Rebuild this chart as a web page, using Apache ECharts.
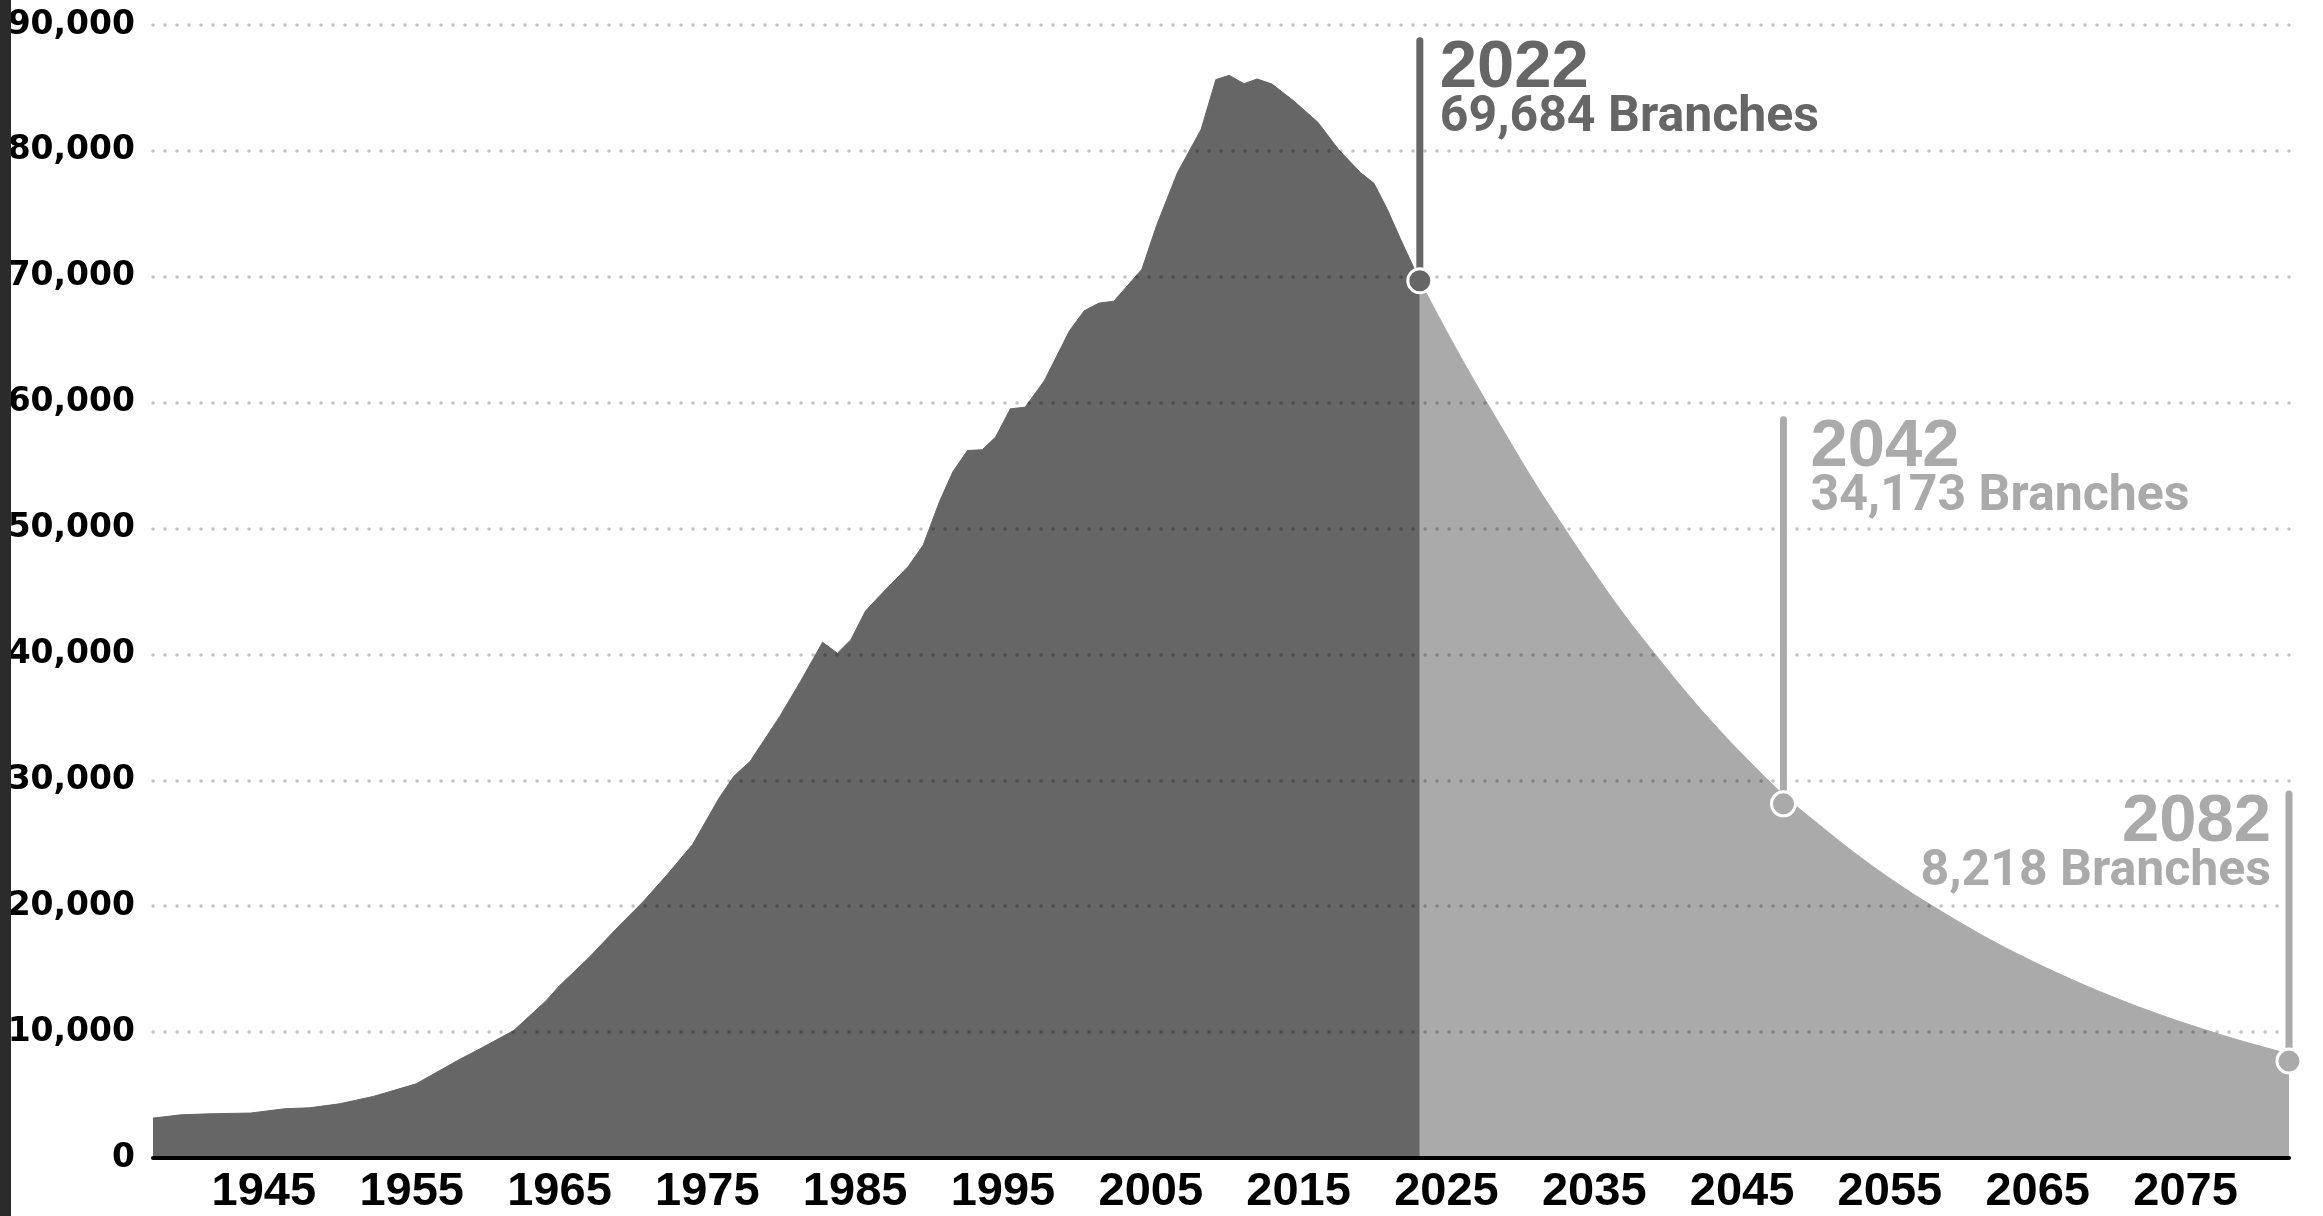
<!DOCTYPE html>
<html><head><meta charset="utf-8">
<script src="https://cdn.jsdelivr.net/npm/echarts@6/dist/echarts.min.js"></script>
<style>html,body{margin:0;padding:0;background:#fff}#c{width:2323px;height:1216px}</style>
</head><body><div id="c"></div>
<script>
// Historical branch counts (dark area)
const histYears = [1937.5,1939.4,1941.3,1944.1,1946.4,1948.1,1950.1,1952.4,1955.3,1958.3,1959.6,1961.9,1964.1,1965.0,1967.0,1968.7,1970.7,1972.3,1974.0,1975.8,1976.8,1977.9,1979.9,1981.3,1982.8,1983.8,1984.7,1985.7,1986.7,1988.6,1989.6,1990.7,1991.6,1992.6,1993.6,1994.5,1995.5,1996.5,1997.8,1999.5,2000.5,2001.5,2002.5,2004.4,2005.4,2006.8,2008.4,2009.4,2010.3,2011.3,2012.2,2013.2,2014.7,2016.3,2017.7,2019.2,2020.1,2021.0,2021.9,2023.2];
const histValues = [3170,3430,3510,3570,3910,3990,4300,4890,5890,7870,8660,10120,12500,13690,15930,18040,20420,22530,24900,28600,30330,31510,35080,37850,40970,40100,41150,43450,44710,47000,48680,52120,54490,56200,56260,57270,59510,59640,61750,65710,67300,67910,68060,70600,74100,78260,81700,85660,86000,85340,85710,85310,83940,82280,80110,78260,77420,75360,72980,69684];
// Projected branch counts (light area)
const projYears = [2023.2,2025,2027,2029,2031,2033,2035,2037,2039,2041,2043,2045,2047.8,2050,2053,2056,2058,2061,2064,2067,2070,2073,2076,2079,2082];
const projValues = [69684,65700,61500,57500,53600,50000,46500,43200,40200,37300,34600,32100,28850,26680,23900,21420,19940,17860,16000,14340,12840,11500,10310,9230,8270];
// Axis tick labels
const xTickYears = [1945,1955,1965,1975,1985,1995,2005,2015,2025,2035,2045,2055,2065,2075];
// Annotated points
const markerYears = [2023.2, 2047.8, 2082];
const markerValues = [69684, 28130, 7700];
const markerTitles = ['2022', '2042', '2082'];
const markerTexts = ['69,684 Branches', '34,173 Branches', '8,218 Branches'];

const DARK = '#666666', LIGHT = '#aaaaaa';
const markerStyle = [
  {color: DARK, stem: 240, dx: 20, align: 'left'},
  {color: LIGHT, stem: 384, dx: 27, align: 'left'},
  {color: LIGHT, stem: 267, dx: -18, align: 'right'}
];

const zip = (a, b) => a.map((x, i) => [x, b[i]]);

const chart = echarts.init(document.getElementById('c'), null, {renderer: 'canvas'});
chart.setOption({
  animation: false,
  backgroundColor: '#ffffff',
  graphic: [{type: 'rect', left: 0, top: 0, z: 100, shape: {width: 11, height: 1216}, style: {fill: '#2b2b2b'}}],
  grid: {left: 153, right: 34, top: 25, bottom: 55, containLabel: false},
  xAxis: {
    type: 'value', min: 1937.5, max: 2082, z: 5,
    splitLine: {show: false},
    axisTick: {show: false},
    axisLine: {show: true, onZero: true, lineStyle: {color: '#000', width: 4, cap: 'round'}},
    axisLabel: {
      customValues: xTickYears,
      formatter: v => String(v),
      color: '#000', fontFamily: '"Liberation Sans", Arial, sans-serif', fontWeight: 900, fontSize: 47, margin: 11
    }
  },
  yAxis: {
    type: 'value', min: 0, max: 90000, interval: 10000, z: 5,
    axisLine: {show: false}, axisTick: {show: false},
    splitLine: {show: true, lineStyle: {color: 'rgba(0,0,0,0.24)', width: 3.5, type: [0.1, 11.9], cap: 'round'}},
    axisLabel: {
      formatter: v => v.toLocaleString('en-US'),
      color: '#000', fontFamily: '"DejaVu Sans", sans-serif', fontWeight: 'bold', fontSize: 33, margin: 18
    }
  },
  series: [
    {
      type: 'line', data: zip(histYears, histValues), showSymbol: false, z: 2,
      lineStyle: {color: DARK, width: 1}, areaStyle: {color: DARK, opacity: 1}
    },
    {
      type: 'line', data: zip(projYears, projValues), showSymbol: false, smooth: 0.4, z: 2,
      lineStyle: {color: LIGHT, width: 1}, areaStyle: {color: LIGHT, opacity: 1}
    },
    {
      type: 'custom', z: 10, clip: false,
      data: zip(markerYears, markerValues),
      encode: {x: 0, y: 1},
      renderItem: function (params, api) {
        const i = params.dataIndex;
        const s = markerStyle[i];
        const p = api.coord([api.value(0), api.value(1)]);
        const top = p[1] - s.stem;
        return {
          type: 'group',
          children: [
            {type: 'line', shape: {x1: p[0], y1: p[1], x2: p[0], y2: top}, style: {stroke: s.color, lineWidth: 7, lineCap: 'round'}},
            {type: 'circle', shape: {cx: p[0], cy: p[1], r: 12}, style: {fill: s.color, stroke: '#fff', lineWidth: 3}},
            {type: 'text', x: p[0] + s.dx, y: top + 28, style: {text: markerTitles[i], fill: s.color, fontFamily: '"Liberation Sans", Arial, sans-serif', fontWeight: 900, fontSize: 67, align: s.align, verticalAlign: 'middle'}},
            {type: 'text', x: p[0] + s.dx, y: top + 78, style: {text: markerTexts[i], fill: s.color, fontFamily: 'Roboto, sans-serif', fontWeight: 'bold', fontSize: 50, align: s.align, verticalAlign: 'middle'}}
          ]
        };
      }
    }
  ]
});
</script></body></html>
